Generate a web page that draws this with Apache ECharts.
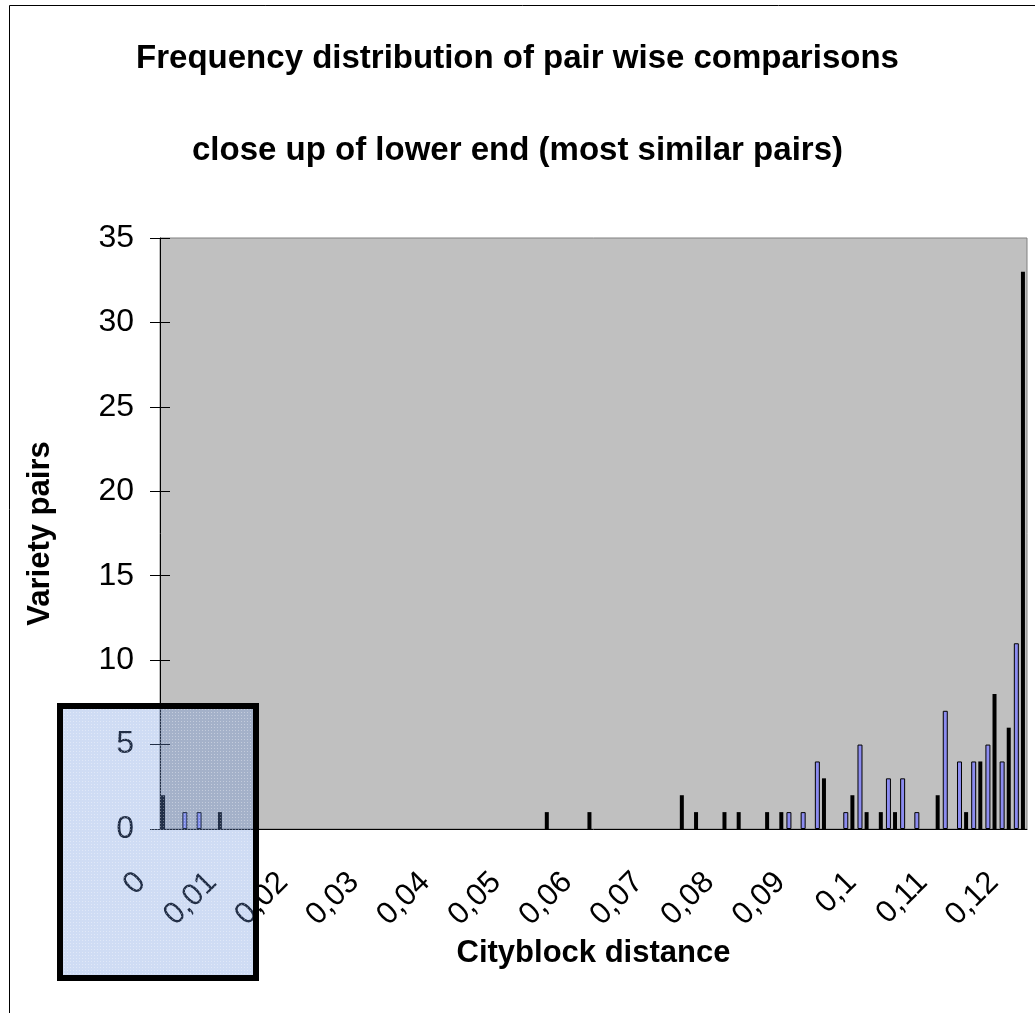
<!DOCTYPE html>
<html>
<head>
<meta charset="utf-8">
<script src="https://cdn.jsdelivr.net/npm/echarts@6/dist/echarts.min.js"></script>
<style>
  html, body { margin: 0; padding: 0; background: #fff; }
  #chart { width: 1035px; height: 1013px; }
</style>
</head>
<body>
<div id="chart"></div>
<script>
// histogram bins of 0.001, labels every 10 bins
const binCount = 122;
const tickLabels = ['0', '0,01', '0,02', '0,03', '0,04', '0,05', '0,06', '0,07', '0,08', '0,09', '0,1', '0,11', '0,12'];

// bars drawn with blue fill
const blueBins   = [3, 5, 88, 90, 92, 96, 98, 102, 104, 106, 110, 112, 114, 116, 118, 120];
const blueCounts = [1, 1, 1, 1, 4, 1, 5, 3, 3, 1, 7, 4, 4, 5, 4, 11];
// bars drawn solid black
const blackBins   = [0, 8, 54, 60, 73, 75, 79, 81, 85, 87, 93, 97, 99, 101, 103, 109, 113, 115, 117, 119, 121];
const blackCounts = [2, 1, 1, 1, 2, 1, 1, 1, 1, 1, 3, 2, 1, 1, 1, 2, 1, 4, 8, 6, 33];

const categories = [];
for (let i = 0; i < binCount; i++) {
  categories.push(i % 10 === 0 ? tickLabels[i / 10] : '');
}

function toSeries(bins, counts) {
  const d = new Array(binCount).fill(null);
  bins.forEach(function (b, k) { d[b] = counts[k]; });
  return d;
}

// dotted light blue fill for the highlight box
const dots = document.createElement('canvas');
dots.width = 3; dots.height = 3;
const dctx = dots.getContext('2d');
dctx.fillStyle = 'rgba(105,145,220,0.32)';
dctx.fillRect(0, 0, 3, 3);
dctx.fillStyle = 'rgba(255,255,255,0.35)';
dctx.fillRect(1, 1, 1, 1);

const font = 'Liberation Sans, Arial, sans-serif';
const chart = echarts.init(document.getElementById('chart'));

const option = {
  backgroundColor: '#fff',
  animation: false,
  title: [
    {
      text: 'Frequency distribution of pair wise comparisons',
      left: 'center', top: 37,
      textStyle: { fontFamily: font, fontSize: 33, fontWeight: 'bold', color: '#000' }
    },
    {
      text: 'close up of lower end (most similar pairs)',
      left: 'center', top: 129,
      textStyle: { fontFamily: font, fontSize: 33, fontWeight: 'bold', color: '#000' }
    }
  ],
  grid: {
    left: 160, right: 8, top: 238, bottom: 184,
    show: true,
    backgroundColor: '#c0c0c0',
    borderColor: '#808080',
    borderWidth: 1
  },
  xAxis: {
    type: 'category',
    data: categories,
    boundaryGap: true,
    name: 'Cityblock distance',
    nameLocation: 'middle',
    nameGap: 106,
    nameTextStyle: { fontFamily: font, fontSize: 31, fontWeight: 'bold', color: '#000' },
    axisLine: { lineStyle: { color: '#000', width: 1 } },
    axisTick: { interval: 9, length: 10, lineStyle: { color: '#000' } },
    axisLabel: {
      interval: 9, rotate: 45, margin: 26,
      padding: [0, 32, 0, 0],
      fontFamily: font, fontSize: 31, color: '#000'
    },
    splitLine: { show: false }
  },
  yAxis: [
    {
      type: 'value',
      min: 0, max: 35, interval: 5,
      name: 'Variety pairs',
      nameLocation: 'middle',
      nameGap: 104,
      nameTextStyle: { fontFamily: font, fontSize: 31, fontWeight: 'bold', color: '#000' },
      axisLine: { show: true, lineStyle: { color: '#000', width: 1 } },
      axisTick: { show: true, length: 10, lineStyle: { color: '#000' } },
      axisLabel: { margin: 26, fontFamily: font, fontSize: 32, color: '#000' },
      splitLine: { show: false }
    },
    {
      // inner half of the cross ticks
      type: 'value',
      position: 'left',
      min: 0, max: 35, interval: 5,
      axisLine: { show: false },
      axisTick: { show: true, inside: true, length: 10, lineStyle: { color: '#000' } },
      axisLabel: { show: false },
      splitLine: { show: false }
    }
  ],
  series: [
    {
      type: 'bar',
      data: toSeries(blackBins, blackCounts),
      barWidth: 4,
      barGap: '-100%',
      itemStyle: { color: '#000' }
    },
    {
      type: 'bar',
      data: toSeries(blueBins, blueCounts),
      barWidth: 5,
      barGap: '-100%',
      itemStyle: { color: '#8c8cf0', borderColor: '#000', borderWidth: 1 }
    }
  ],
  graphic: [
    {
      type: 'polyline',
      z: 100,
      shape: { points: [[9.5, 1013], [9.5, 5.5], [1035, 5.5]] },
      style: { stroke: '#000', lineWidth: 1, fill: null }
    },
    {
      type: 'rect',
      z: 100,
      shape: { x: 60, y: 706, width: 196, height: 272 },
      style: { fill: { image: dots, repeat: 'repeat' }, stroke: '#000', lineWidth: 6 }
    }
  ]
};

chart.setOption(option);
</script>
</body>
</html>
